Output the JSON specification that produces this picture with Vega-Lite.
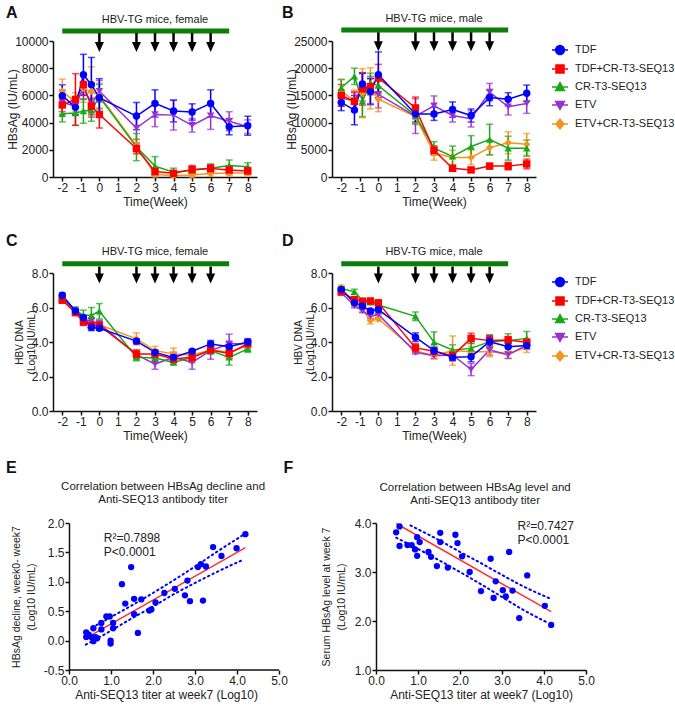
{
  "$schema": "https://vega.github.io/schema/vega-lite/v6.json",
  "spacing": 19,
  "datasets": {
    "inj": [{"week": 0}, {"week": 2}, {"week": 3}, {"week": 4}, {"week": 5}, {"week": 6}],
    "hbsag_female": [
      {"group": "ETV+CR-T3-SEQ13", "week": -2, "value": 6300, "sem": 900},
      {"group": "ETV+CR-T3-SEQ13", "week": -1.29, "value": 5500, "sem": 700},
      {"group": "ETV+CR-T3-SEQ13", "week": -0.86, "value": 6500, "sem": 1000},
      {"group": "ETV+CR-T3-SEQ13", "week": -0.43, "value": 6300, "sem": 1800},
      {"group": "ETV+CR-T3-SEQ13", "week": 0, "value": 6000, "sem": 900},
      {"group": "ETV+CR-T3-SEQ13", "week": 2, "value": 2300, "sem": 500},
      {"group": "ETV+CR-T3-SEQ13", "week": 3, "value": 200, "sem": 200},
      {"group": "ETV+CR-T3-SEQ13", "week": 4, "value": 100, "sem": 100},
      {"group": "ETV+CR-T3-SEQ13", "week": 5, "value": 150, "sem": 150},
      {"group": "ETV+CR-T3-SEQ13", "week": 6, "value": 250, "sem": 200},
      {"group": "ETV+CR-T3-SEQ13", "week": 7, "value": 300, "sem": 200},
      {"group": "ETV+CR-T3-SEQ13", "week": 8, "value": 300, "sem": 200},
      {"group": "ETV", "week": -2, "value": 5500, "sem": 900},
      {"group": "ETV", "week": -1.29, "value": 5200, "sem": 600},
      {"group": "ETV", "week": -0.86, "value": 6600, "sem": 900},
      {"group": "ETV", "week": -0.43, "value": 5300, "sem": 900},
      {"group": "ETV", "week": 0, "value": 6300, "sem": 800},
      {"group": "ETV", "week": 2, "value": 3600, "sem": 850},
      {"group": "ETV", "week": 3, "value": 4600, "sem": 900},
      {"group": "ETV", "week": 4, "value": 4550, "sem": 1100},
      {"group": "ETV", "week": 5, "value": 3800, "sem": 500},
      {"group": "ETV", "week": 6, "value": 4500, "sem": 1000},
      {"group": "ETV", "week": 7, "value": 4100, "sem": 700},
      {"group": "ETV", "week": 8, "value": 3700, "sem": 500},
      {"group": "CR-T3-SEQ13", "week": -2, "value": 4650, "sem": 600},
      {"group": "CR-T3-SEQ13", "week": -1.29, "value": 4700, "sem": 900},
      {"group": "CR-T3-SEQ13", "week": -0.86, "value": 4850, "sem": 900},
      {"group": "CR-T3-SEQ13", "week": -0.43, "value": 4900, "sem": 800},
      {"group": "CR-T3-SEQ13", "week": 0, "value": 5900, "sem": 900},
      {"group": "CR-T3-SEQ13", "week": 2, "value": 2200, "sem": 1000},
      {"group": "CR-T3-SEQ13", "week": 3, "value": 800, "sem": 700},
      {"group": "CR-T3-SEQ13", "week": 4, "value": 350, "sem": 300},
      {"group": "CR-T3-SEQ13", "week": 5, "value": 500, "sem": 250},
      {"group": "CR-T3-SEQ13", "week": 6, "value": 650, "sem": 300},
      {"group": "CR-T3-SEQ13", "week": 7, "value": 850, "sem": 400},
      {"group": "CR-T3-SEQ13", "week": 8, "value": 750, "sem": 300},
      {"group": "TDF+CR-T3-SEQ13", "week": -2, "value": 5300, "sem": 500},
      {"group": "TDF+CR-T3-SEQ13", "week": -1.29, "value": 5700, "sem": 1900},
      {"group": "TDF+CR-T3-SEQ13", "week": -0.86, "value": 6800, "sem": 800},
      {"group": "TDF+CR-T3-SEQ13", "week": -0.43, "value": 5200, "sem": 600},
      {"group": "TDF+CR-T3-SEQ13", "week": 0, "value": 4600, "sem": 1000},
      {"group": "TDF+CR-T3-SEQ13", "week": 2, "value": 2100, "sem": 400},
      {"group": "TDF+CR-T3-SEQ13", "week": 3, "value": 400, "sem": 250},
      {"group": "TDF+CR-T3-SEQ13", "week": 4, "value": 270, "sem": 200},
      {"group": "TDF+CR-T3-SEQ13", "week": 5, "value": 550, "sem": 300},
      {"group": "TDF+CR-T3-SEQ13", "week": 6, "value": 620, "sem": 300},
      {"group": "TDF+CR-T3-SEQ13", "week": 7, "value": 520, "sem": 300},
      {"group": "TDF+CR-T3-SEQ13", "week": 8, "value": 450, "sem": 250},
      {"group": "TDF", "week": -2, "value": 5980, "sem": 800},
      {"group": "TDF", "week": -1.29, "value": 5120, "sem": 550},
      {"group": "TDF", "week": -0.86, "value": 7520, "sem": 1500},
      {"group": "TDF", "week": -0.43, "value": 6790, "sem": 2000},
      {"group": "TDF", "week": 0, "value": 5830, "sem": 1400},
      {"group": "TDF", "week": 2, "value": 4480, "sem": 1000},
      {"group": "TDF", "week": 3, "value": 5410, "sem": 1000},
      {"group": "TDF", "week": 4, "value": 4850, "sem": 800},
      {"group": "TDF", "week": 5, "value": 4780, "sem": 600},
      {"group": "TDF", "week": 6, "value": 5410, "sem": 1000},
      {"group": "TDF", "week": 7, "value": 3700, "sem": 600},
      {"group": "TDF", "week": 8, "value": 3770, "sem": 700}
    ],
    "hbsag_male": [
      {"group": "ETV+CR-T3-SEQ13", "week": -2, "value": 15800, "sem": 2200},
      {"group": "ETV+CR-T3-SEQ13", "week": -1.29, "value": 14000, "sem": 2000},
      {"group": "ETV+CR-T3-SEQ13", "week": -0.86, "value": 15400, "sem": 4500},
      {"group": "ETV+CR-T3-SEQ13", "week": -0.43, "value": 16300, "sem": 3800},
      {"group": "ETV+CR-T3-SEQ13", "week": 0, "value": 14300, "sem": 2300},
      {"group": "ETV+CR-T3-SEQ13", "week": 2, "value": 11100, "sem": 1500},
      {"group": "ETV+CR-T3-SEQ13", "week": 3, "value": 4400, "sem": 1300},
      {"group": "ETV+CR-T3-SEQ13", "week": 4, "value": 3600, "sem": 1300},
      {"group": "ETV+CR-T3-SEQ13", "week": 5, "value": 3600, "sem": 1300},
      {"group": "ETV+CR-T3-SEQ13", "week": 6, "value": 5400, "sem": 1400},
      {"group": "ETV+CR-T3-SEQ13", "week": 7, "value": 6300, "sem": 2000},
      {"group": "ETV+CR-T3-SEQ13", "week": 8, "value": 6000, "sem": 2000},
      {"group": "ETV", "week": -2, "value": 14500, "sem": 1500},
      {"group": "ETV", "week": -1.29, "value": 14000, "sem": 1500},
      {"group": "ETV", "week": -0.86, "value": 16500, "sem": 2500},
      {"group": "ETV", "week": -0.43, "value": 16000, "sem": 2500},
      {"group": "ETV", "week": 0, "value": 15200, "sem": 2500},
      {"group": "ETV", "week": 2, "value": 11200, "sem": 3200},
      {"group": "ETV", "week": 3, "value": 13100, "sem": 1800},
      {"group": "ETV", "week": 4, "value": 11300, "sem": 1200},
      {"group": "ETV", "week": 5, "value": 10700, "sem": 1500},
      {"group": "ETV", "week": 6, "value": 15600, "sem": 1600},
      {"group": "ETV", "week": 7, "value": 12900, "sem": 1500},
      {"group": "ETV", "week": 8, "value": 13500, "sem": 1800},
      {"group": "CR-T3-SEQ13", "week": -2, "value": 16400, "sem": 1500},
      {"group": "CR-T3-SEQ13", "week": -1.29, "value": 18500, "sem": 1500},
      {"group": "CR-T3-SEQ13", "week": -0.86, "value": 13900, "sem": 2800},
      {"group": "CR-T3-SEQ13", "week": -0.43, "value": 17300, "sem": 1800},
      {"group": "CR-T3-SEQ13", "week": 0, "value": 16800, "sem": 1500},
      {"group": "CR-T3-SEQ13", "week": 2, "value": 11300, "sem": 1500},
      {"group": "CR-T3-SEQ13", "week": 3, "value": 5300, "sem": 1200},
      {"group": "CR-T3-SEQ13", "week": 4, "value": 3800, "sem": 1900},
      {"group": "CR-T3-SEQ13", "week": 5, "value": 5600, "sem": 2000},
      {"group": "CR-T3-SEQ13", "week": 6, "value": 6900, "sem": 2800},
      {"group": "CR-T3-SEQ13", "week": 7, "value": 5300, "sem": 2200},
      {"group": "CR-T3-SEQ13", "week": 8, "value": 5300, "sem": 1500},
      {"group": "TDF+CR-T3-SEQ13", "week": -2, "value": 15000, "sem": 2000},
      {"group": "TDF+CR-T3-SEQ13", "week": -1.29, "value": 13900, "sem": 1800},
      {"group": "TDF+CR-T3-SEQ13", "week": -0.86, "value": 16200, "sem": 3000},
      {"group": "TDF+CR-T3-SEQ13", "week": -0.43, "value": 16600, "sem": 1500},
      {"group": "TDF+CR-T3-SEQ13", "week": 0, "value": 18200, "sem": 2500},
      {"group": "TDF+CR-T3-SEQ13", "week": 2, "value": 12700, "sem": 2000},
      {"group": "TDF+CR-T3-SEQ13", "week": 3, "value": 4900, "sem": 800},
      {"group": "TDF+CR-T3-SEQ13", "week": 4, "value": 1600, "sem": 400},
      {"group": "TDF+CR-T3-SEQ13", "week": 5, "value": 1300, "sem": 400},
      {"group": "TDF+CR-T3-SEQ13", "week": 6, "value": 2000, "sem": 500},
      {"group": "TDF+CR-T3-SEQ13", "week": 7, "value": 2000, "sem": 700},
      {"group": "TDF+CR-T3-SEQ13", "week": 8, "value": 2400, "sem": 900},
      {"group": "TDF", "week": -2, "value": 13700, "sem": 1500},
      {"group": "TDF", "week": -1.29, "value": 12300, "sem": 2700},
      {"group": "TDF", "week": -0.86, "value": 17100, "sem": 2000},
      {"group": "TDF", "week": -0.43, "value": 15700, "sem": 2400},
      {"group": "TDF", "week": 0, "value": 18800, "sem": 4200},
      {"group": "TDF", "week": 2, "value": 11600, "sem": 1500},
      {"group": "TDF", "week": 3, "value": 11600, "sem": 1200},
      {"group": "TDF", "week": 4, "value": 12400, "sem": 1400},
      {"group": "TDF", "week": 5, "value": 11300, "sem": 1200},
      {"group": "TDF", "week": 6, "value": 14600, "sem": 1500},
      {"group": "TDF", "week": 7, "value": 14300, "sem": 1200},
      {"group": "TDF", "week": 8, "value": 15400, "sem": 1500}
    ],
    "dna_female": [
      {"group": "ETV+CR-T3-SEQ13", "week": -2, "value": 6.5, "sem": 0.1},
      {"group": "ETV+CR-T3-SEQ13", "week": -1.29, "value": 5.7, "sem": 0.15},
      {"group": "ETV+CR-T3-SEQ13", "week": -0.86, "value": 5.3, "sem": 0.2},
      {"group": "ETV+CR-T3-SEQ13", "week": -0.43, "value": 5.0, "sem": 0.2},
      {"group": "ETV+CR-T3-SEQ13", "week": 0, "value": 5.0, "sem": 0.15},
      {"group": "ETV+CR-T3-SEQ13", "week": 2, "value": 4.18, "sem": 0.35},
      {"group": "ETV+CR-T3-SEQ13", "week": 3, "value": 3.5, "sem": 0.25},
      {"group": "ETV+CR-T3-SEQ13", "week": 4, "value": 3.3, "sem": 0.35},
      {"group": "ETV+CR-T3-SEQ13", "week": 5, "value": 3.25, "sem": 0.2},
      {"group": "ETV+CR-T3-SEQ13", "week": 6, "value": 3.54, "sem": 0.2},
      {"group": "ETV+CR-T3-SEQ13", "week": 7, "value": 3.4, "sem": 0.3},
      {"group": "ETV+CR-T3-SEQ13", "week": 8, "value": 3.8, "sem": 0.3},
      {"group": "ETV", "week": -2, "value": 6.55, "sem": 0.12},
      {"group": "ETV", "week": -1.29, "value": 5.75, "sem": 0.15},
      {"group": "ETV", "week": -0.86, "value": 5.3, "sem": 0.2},
      {"group": "ETV", "week": -0.43, "value": 5.2, "sem": 0.2},
      {"group": "ETV", "week": 0, "value": 5.06, "sem": 0.2},
      {"group": "ETV", "week": 2, "value": 3.27, "sem": 0.2},
      {"group": "ETV", "week": 3, "value": 2.72, "sem": 0.3},
      {"group": "ETV", "week": 4, "value": 3.11, "sem": 0.3},
      {"group": "ETV", "week": 5, "value": 2.82, "sem": 0.4},
      {"group": "ETV", "week": 6, "value": 3.5, "sem": 0.5},
      {"group": "ETV", "week": 7, "value": 3.9, "sem": 0.55},
      {"group": "ETV", "week": 8, "value": 3.9, "sem": 0.3},
      {"group": "CR-T3-SEQ13", "week": -2, "value": 6.6, "sem": 0.1},
      {"group": "CR-T3-SEQ13", "week": -1.29, "value": 5.84, "sem": 0.2},
      {"group": "CR-T3-SEQ13", "week": -0.86, "value": 5.55, "sem": 0.3},
      {"group": "CR-T3-SEQ13", "week": -0.43, "value": 5.55, "sem": 0.45},
      {"group": "CR-T3-SEQ13", "week": 0, "value": 5.78, "sem": 0.45},
      {"group": "CR-T3-SEQ13", "week": 2, "value": 3.11, "sem": 0.2},
      {"group": "CR-T3-SEQ13", "week": 3, "value": 3.07, "sem": 0.2},
      {"group": "CR-T3-SEQ13", "week": 4, "value": 2.82, "sem": 0.15},
      {"group": "CR-T3-SEQ13", "week": 5, "value": 3.11, "sem": 0.2},
      {"group": "CR-T3-SEQ13", "week": 6, "value": 3.5, "sem": 0.2},
      {"group": "CR-T3-SEQ13", "week": 7, "value": 3.11, "sem": 0.45},
      {"group": "CR-T3-SEQ13", "week": 8, "value": 3.6, "sem": 0.2},
      {"group": "TDF+CR-T3-SEQ13", "week": -2, "value": 6.42, "sem": 0.1},
      {"group": "TDF+CR-T3-SEQ13", "week": -1.29, "value": 5.7, "sem": 0.15},
      {"group": "TDF+CR-T3-SEQ13", "week": -0.86, "value": 5.16, "sem": 0.2},
      {"group": "TDF+CR-T3-SEQ13", "week": -0.43, "value": 4.96, "sem": 0.15},
      {"group": "TDF+CR-T3-SEQ13", "week": 0, "value": 4.96, "sem": 0.15},
      {"group": "TDF+CR-T3-SEQ13", "week": 2, "value": 3.3, "sem": 0.25},
      {"group": "TDF+CR-T3-SEQ13", "week": 3, "value": 3.3, "sem": 0.2},
      {"group": "TDF+CR-T3-SEQ13", "week": 4, "value": 3.01, "sem": 0.2},
      {"group": "TDF+CR-T3-SEQ13", "week": 5, "value": 3.11, "sem": 0.3},
      {"group": "TDF+CR-T3-SEQ13", "week": 6, "value": 3.54, "sem": 0.2},
      {"group": "TDF+CR-T3-SEQ13", "week": 7, "value": 3.34, "sem": 0.3},
      {"group": "TDF+CR-T3-SEQ13", "week": 8, "value": 3.9, "sem": 0.2},
      {"group": "TDF", "week": -2, "value": 6.71, "sem": 0.12},
      {"group": "TDF", "week": -1.29, "value": 5.8, "sem": 0.15},
      {"group": "TDF", "week": -0.86, "value": 5.41, "sem": 0.15},
      {"group": "TDF", "week": -0.43, "value": 4.86, "sem": 0.2},
      {"group": "TDF", "week": 0, "value": 4.8, "sem": 0.12},
      {"group": "TDF", "week": 2, "value": 4.05, "sem": 0.15},
      {"group": "TDF", "week": 3, "value": 3.4, "sem": 0.15},
      {"group": "TDF", "week": 4, "value": 3.11, "sem": 0.15},
      {"group": "TDF", "week": 5, "value": 3.46, "sem": 0.1},
      {"group": "TDF", "week": 6, "value": 3.89, "sem": 0.2},
      {"group": "TDF", "week": 7, "value": 3.73, "sem": 0.25},
      {"group": "TDF", "week": 8, "value": 4.0, "sem": 0.15}
    ],
    "dna_male": [
      {"group": "ETV+CR-T3-SEQ13", "week": -2, "value": 7.15, "sem": 0.15},
      {"group": "ETV+CR-T3-SEQ13", "week": -1.29, "value": 6.2, "sem": 0.15},
      {"group": "ETV+CR-T3-SEQ13", "week": -0.86, "value": 5.9, "sem": 0.15},
      {"group": "ETV+CR-T3-SEQ13", "week": -0.43, "value": 5.25, "sem": 0.2},
      {"group": "ETV+CR-T3-SEQ13", "week": 0, "value": 5.35, "sem": 0.15},
      {"group": "ETV+CR-T3-SEQ13", "week": 2, "value": 3.5, "sem": 0.15},
      {"group": "ETV+CR-T3-SEQ13", "week": 3, "value": 3.21, "sem": 0.2},
      {"group": "ETV+CR-T3-SEQ13", "week": 4, "value": 3.5, "sem": 0.85},
      {"group": "ETV+CR-T3-SEQ13", "week": 5, "value": 3.44, "sem": 0.3},
      {"group": "ETV+CR-T3-SEQ13", "week": 6, "value": 3.44, "sem": 0.3},
      {"group": "ETV+CR-T3-SEQ13", "week": 7, "value": 3.34, "sem": 0.3},
      {"group": "ETV+CR-T3-SEQ13", "week": 8, "value": 3.7, "sem": 0.3},
      {"group": "ETV", "week": -2, "value": 6.85, "sem": 0.15},
      {"group": "ETV", "week": -1.29, "value": 6.1, "sem": 0.12},
      {"group": "ETV", "week": -0.86, "value": 5.8, "sem": 0.1},
      {"group": "ETV", "week": -0.43, "value": 5.5, "sem": 0.15},
      {"group": "ETV", "week": 0, "value": 5.6, "sem": 0.2},
      {"group": "ETV", "week": 2, "value": 3.4, "sem": 0.1},
      {"group": "ETV", "week": 3, "value": 3.2, "sem": 0.15},
      {"group": "ETV", "week": 4, "value": 3.25, "sem": 0.2},
      {"group": "ETV", "week": 5, "value": 2.4, "sem": 0.35},
      {"group": "ETV", "week": 6, "value": 3.54, "sem": 0.3},
      {"group": "ETV", "week": 7, "value": 3.25, "sem": 0.2},
      {"group": "ETV", "week": 8, "value": 3.83, "sem": 0.2},
      {"group": "CR-T3-SEQ13", "week": -2, "value": 7.1, "sem": 0.1},
      {"group": "CR-T3-SEQ13", "week": -1.29, "value": 6.91, "sem": 0.15},
      {"group": "CR-T3-SEQ13", "week": -0.86, "value": 6.42, "sem": 0.1},
      {"group": "CR-T3-SEQ13", "week": -0.43, "value": 6.3, "sem": 0.1},
      {"group": "CR-T3-SEQ13", "week": 0, "value": 6.15, "sem": 0.15},
      {"group": "CR-T3-SEQ13", "week": 2, "value": 5.49, "sem": 0.25},
      {"group": "CR-T3-SEQ13", "week": 3, "value": 3.99, "sem": 0.6},
      {"group": "CR-T3-SEQ13", "week": 4, "value": 3.54, "sem": 0.3},
      {"group": "CR-T3-SEQ13", "week": 5, "value": 3.63, "sem": 0.3},
      {"group": "CR-T3-SEQ13", "week": 6, "value": 4.02, "sem": 0.4},
      {"group": "CR-T3-SEQ13", "week": 7, "value": 4.08, "sem": 0.4},
      {"group": "CR-T3-SEQ13", "week": 8, "value": 4.21, "sem": 0.4},
      {"group": "TDF+CR-T3-SEQ13", "week": -2, "value": 6.91, "sem": 0.1},
      {"group": "TDF+CR-T3-SEQ13", "week": -1.29, "value": 6.46, "sem": 0.1},
      {"group": "TDF+CR-T3-SEQ13", "week": -0.86, "value": 6.36, "sem": 0.1},
      {"group": "TDF+CR-T3-SEQ13", "week": -0.43, "value": 6.38, "sem": 0.1},
      {"group": "TDF+CR-T3-SEQ13", "week": 0, "value": 6.27, "sem": 0.15},
      {"group": "TDF+CR-T3-SEQ13", "week": 2, "value": 3.66, "sem": 0.25},
      {"group": "TDF+CR-T3-SEQ13", "week": 3, "value": 3.46, "sem": 0.2},
      {"group": "TDF+CR-T3-SEQ13", "week": 4, "value": 3.21, "sem": 0.25},
      {"group": "TDF+CR-T3-SEQ13", "week": 5, "value": 4.21, "sem": 0.3},
      {"group": "TDF+CR-T3-SEQ13", "week": 6, "value": 4.08, "sem": 0.3},
      {"group": "TDF+CR-T3-SEQ13", "week": 7, "value": 4.12, "sem": 0.2},
      {"group": "TDF+CR-T3-SEQ13", "week": 8, "value": 3.98, "sem": 0.2},
      {"group": "TDF", "week": -2, "value": 7.05, "sem": 0.12},
      {"group": "TDF", "week": -1.29, "value": 6.27, "sem": 0.12},
      {"group": "TDF", "week": -0.86, "value": 6.09, "sem": 0.1},
      {"group": "TDF", "week": -0.43, "value": 5.8, "sem": 0.1},
      {"group": "TDF", "week": 0, "value": 5.88, "sem": 0.25},
      {"group": "TDF", "week": 2, "value": 4.28, "sem": 0.25},
      {"group": "TDF", "week": 3, "value": 3.5, "sem": 0.2},
      {"group": "TDF", "week": 4, "value": 3.11, "sem": 0.2},
      {"group": "TDF", "week": 5, "value": 3.15, "sem": 0.3},
      {"group": "TDF", "week": 6, "value": 4.02, "sem": 0.3},
      {"group": "TDF", "week": 7, "value": 3.73, "sem": 0.3},
      {"group": "TDF", "week": 8, "value": 3.79, "sem": 0.2}
    ],
    "e_points": [
      {"titer": 0.41, "decline": 0.14}, {"titer": 0.41, "decline": 0.06}, {"titer": 0.47, "decline": 0.1},
      {"titer": 0.53, "decline": 0.06}, {"titer": 0.58, "decline": -0.01}, {"titer": 0.58, "decline": 0.21},
      {"titer": 0.63, "decline": 0.06}, {"titer": 0.67, "decline": 0.04}, {"titer": 0.77, "decline": 0.3},
      {"titer": 0.77, "decline": 0.19}, {"titer": 0.89, "decline": 0.41}, {"titer": 0.97, "decline": 0.41},
      {"titer": 0.99, "decline": 0.0}, {"titer": 0.99, "decline": -0.05}, {"titer": 1.05, "decline": 0.3},
      {"titer": 1.05, "decline": 0.21}, {"titer": 1.26, "decline": 0.96}, {"titer": 1.34, "decline": 0.63},
      {"titer": 1.48, "decline": 1.25}, {"titer": 1.55, "decline": 0.71}, {"titer": 1.55, "decline": 0.45},
      {"titer": 1.64, "decline": 0.13}, {"titer": 1.72, "decline": 0.7}, {"titer": 1.91, "decline": 0.51},
      {"titer": 1.96, "decline": 0.53}, {"titer": 2.06, "decline": 0.65}, {"titer": 2.27, "decline": 0.81},
      {"titer": 2.52, "decline": 0.88}, {"titer": 2.76, "decline": 0.77}, {"titer": 2.82, "decline": 1.02},
      {"titer": 2.88, "decline": 0.67}, {"titer": 3.07, "decline": 1.25}, {"titer": 3.14, "decline": 1.3},
      {"titer": 3.19, "decline": 0.68}, {"titer": 3.26, "decline": 1.26}, {"titer": 3.43, "decline": 1.59},
      {"titer": 3.63, "decline": 1.44}, {"titer": 3.99, "decline": 1.57}, {"titer": 4.2, "decline": 1.81}
    ],
    "e_fit": [{"titer": 0.5, "decline": 0.08}, {"titer": 4.2, "decline": 1.58}],
    "e_band": [
      {"band": "upper", "titer": 0.55, "decline": 0.22}, {"band": "upper", "titer": 1.0, "decline": 0.4},
      {"band": "upper", "titer": 1.5, "decline": 0.6}, {"band": "upper", "titer": 2.0, "decline": 0.81},
      {"band": "upper", "titer": 2.5, "decline": 1.03}, {"band": "upper", "titer": 3.0, "decline": 1.26},
      {"band": "upper", "titer": 3.5, "decline": 1.5}, {"band": "upper", "titer": 4.2, "decline": 1.82},
      {"band": "lower", "titer": 0.4, "decline": -0.07}, {"band": "lower", "titer": 1.0, "decline": 0.17},
      {"band": "lower", "titer": 1.5, "decline": 0.38}, {"band": "lower", "titer": 2.0, "decline": 0.58},
      {"band": "lower", "titer": 2.5, "decline": 0.79}, {"band": "lower", "titer": 3.0, "decline": 0.98},
      {"band": "lower", "titer": 3.5, "decline": 1.16}, {"band": "lower", "titer": 4.1, "decline": 1.36}
    ],
    "f_points": [
      {"titer": 0.48, "level": 3.81}, {"titer": 0.56, "level": 3.93}, {"titer": 0.56, "level": 3.53},
      {"titer": 0.75, "level": 3.55}, {"titer": 0.85, "level": 3.55}, {"titer": 0.93, "level": 3.46},
      {"titer": 0.98, "level": 3.71}, {"titer": 0.98, "level": 3.33}, {"titer": 1.04, "level": 3.61},
      {"titer": 1.25, "level": 3.41}, {"titer": 1.31, "level": 3.31}, {"titer": 1.45, "level": 3.12},
      {"titer": 1.53, "level": 3.8}, {"titer": 1.53, "level": 3.61}, {"titer": 1.71, "level": 3.09},
      {"titer": 1.89, "level": 3.76}, {"titer": 1.94, "level": 3.59}, {"titer": 2.05, "level": 3.32},
      {"titer": 2.23, "level": 3.0}, {"titer": 2.5, "level": 2.61}, {"titer": 2.73, "level": 3.27},
      {"titer": 2.8, "level": 2.47}, {"titer": 2.85, "level": 2.81}, {"titer": 3.02, "level": 2.63},
      {"titer": 3.09, "level": 2.5}, {"titer": 3.17, "level": 3.41}, {"titer": 3.25, "level": 2.62},
      {"titer": 3.41, "level": 2.06}, {"titer": 3.6, "level": 2.93}, {"titer": 4.02, "level": 2.31},
      {"titer": 4.17, "level": 1.92}
    ],
    "f_fit": [{"titer": 0.48, "level": 3.99}, {"titer": 4.17, "level": 2.19}],
    "f_band": [
      {"band": "upper", "titer": 0.82, "level": 3.95}, {"band": "upper", "titer": 1.5, "level": 3.65},
      {"band": "upper", "titer": 2.0, "level": 3.41}, {"band": "upper", "titer": 2.5, "level": 3.18},
      {"band": "upper", "titer": 3.0, "level": 2.94}, {"band": "upper", "titer": 3.5, "level": 2.71},
      {"band": "upper", "titer": 4.17, "level": 2.45},
      {"band": "lower", "titer": 0.48, "level": 3.7}, {"band": "lower", "titer": 1.0, "level": 3.47},
      {"band": "lower", "titer": 1.5, "level": 3.24}, {"band": "lower", "titer": 2.0, "level": 3.0},
      {"band": "lower", "titer": 2.5, "level": 2.75}, {"band": "lower", "titer": 3.0, "level": 2.49},
      {"band": "lower", "titer": 3.5, "level": 2.23}, {"band": "lower", "titer": 4.1, "level": 1.96}
    ]
  },
  "vconcat": [
    {
      "spacing": 26,
      "vconcat": [
        {
          "spacing": 24,
          "hconcat": [
            {
              "width": 204, "height": 136,
              "layer": [
                {"data": {"name": "hbsag_female"}, "mark": {"type": "errorbar", "ticks": true, "size": 7, "thickness": 1.5},
                 "encoding": {
                   "x": {"field": "week", "type": "quantitative", "scale": {"domain": [-2.5, 8.5], "nice": false, "zero": false},
                         "axis": {"values": [-2, -1, 0, 1, 2, 3, 4, 5, 6, 7, 8], "tickCount": 20, "labelFlush": false, "labelOverlap": false, "labelExpr": "datum.value < 0 ? '-' + abs(datum.value) : '' + datum.value", "title": "Time(Week)", "titlePadding": 3}},
                   "y": {"field": "value", "type": "quantitative", "scale": {"domain": [0, 10000], "nice": false},
                         "axis": {"values": [0, 2000, 4000, 6000, 8000, 10000], "tickCount": 20, "labelFlush": false, "labelOverlap": false, "format": "d", "title": "HBsAg (IU/mL)", "titlePadding": -5}},
                   "yError": {"field": "sem"},
                   "color": {"field": "group", "type": "nominal", "scale": {"domain": ["TDF", "TDF+CR-T3-SEQ13", "CR-T3-SEQ13", "ETV", "ETV+CR-T3-SEQ13"], "range": ["#0000ff", "#ff0000", "#19a819", "#9b30d0", "#f7931e"]}, "legend": null}}},
                {"data": {"name": "hbsag_female"}, "mark": {"type": "line", "strokeWidth": 1.5},
                 "encoding": {"x": {"field": "week", "type": "quantitative"}, "y": {"field": "value", "type": "quantitative"},
                   "color": {"field": "group", "type": "nominal", "legend": null}}},
                {"data": {"name": "hbsag_female"}, "mark": {"type": "point", "filled": true, "size": 55, "opacity": 1},
                 "encoding": {"x": {"field": "week", "type": "quantitative"}, "y": {"field": "value", "type": "quantitative"},
                   "color": {"field": "group", "type": "nominal", "legend": null},
                   "shape": {"field": "group", "type": "nominal", "scale": {"domain": ["TDF", "TDF+CR-T3-SEQ13", "CR-T3-SEQ13", "ETV", "ETV+CR-T3-SEQ13"], "range": ["circle", "square", "triangle-up", "triangle-down", "diamond"]}, "legend": null}}},
                {"data": {"values": [{"label": "bar"}]}, "mark": {"type": "rule", "color": "#0b7d0b", "strokeWidth": 5},
                 "encoding": {"x": {"datum": -2}, "x2": {"datum": 7}, "y": {"datum": 10735}}},
                {"data": {"values": [{"label": "HBV-TG mice, female"}]}, "mark": {"type": "text", "fontSize": 11, "baseline": "middle"},
                 "encoding": {"text": {"field": "label"}, "x": {"datum": 3}, "y": {"datum": 11544}}},
                {"data": {"values": [{"label": "A"}]}, "mark": {"type": "text", "fontSize": 16, "fontWeight": "bold", "align": "left", "baseline": "alphabetic", "color": "#111"},
                 "encoding": {"text": {"field": "label"}, "x": {"datum": -5.04}, "y": {"datum": 11691}}},
                {"data": {"name": "inj"}, "mark": {"type": "rule", "strokeWidth": 2.5, "color": "#000"},
                 "encoding": {"x": {"field": "week", "type": "quantitative"}, "y": {"datum": 10588}, "y2": {"datum": 9780}}},
                {"data": {"name": "inj"}, "mark": {"type": "point", "shape": "M-0.9,-1L0.9,-1L0,1Z", "filled": true, "color": "#000", "size": 100, "opacity": 1},
                 "encoding": {"x": {"field": "week", "type": "quantitative"}, "y": {"datum": 9559}}}
              ]
            },
            {
              "width": 204, "height": 136,
              "resolve": {"scale": {"shape": "independent", "fill": "independent", "stroke": "independent"}},
              "layer": [
                {"data": {"name": "hbsag_male"}, "mark": {"type": "errorbar", "ticks": true, "size": 7, "thickness": 1.5},
                 "encoding": {
                   "x": {"field": "week", "type": "quantitative", "scale": {"domain": [-2.5, 8.5], "nice": false, "zero": false},
                         "axis": {"values": [-2, -1, 0, 1, 2, 3, 4, 5, 6, 7, 8], "tickCount": 20, "labelFlush": false, "labelOverlap": false, "labelExpr": "datum.value < 0 ? '-' + abs(datum.value) : '' + datum.value", "title": "Time(Week)", "titlePadding": 3}},
                   "y": {"field": "value", "type": "quantitative", "scale": {"domain": [0, 25000], "nice": false},
                         "axis": {"values": [0, 5000, 10000, 15000, 20000, 25000], "tickCount": 20, "labelFlush": false, "labelOverlap": false, "format": "d", "title": "HBsAg (IU/mL)", "titlePadding": -5}},
                   "yError": {"field": "sem"},
                   "color": {"field": "group", "type": "nominal", "scale": {"domain": ["TDF", "TDF+CR-T3-SEQ13", "CR-T3-SEQ13", "ETV", "ETV+CR-T3-SEQ13"], "range": ["#0000ff", "#ff0000", "#19a819", "#9b30d0", "#f7931e"]}, "legend": null}}},
                {"data": {"name": "hbsag_male"}, "mark": {"type": "line", "strokeWidth": 1.5},
                 "encoding": {"x": {"field": "week", "type": "quantitative"}, "y": {"field": "value", "type": "quantitative"},
                   "color": {"field": "group", "type": "nominal", "legend": null}}},
                {"data": {"name": "hbsag_male"}, "mark": {"type": "point", "filled": true, "size": 55, "opacity": 1},
                 "encoding": {"x": {"field": "week", "type": "quantitative"}, "y": {"field": "value", "type": "quantitative"},
                   "color": {"field": "group", "type": "nominal", "legend": null},
                   "shape": {"field": "group", "type": "nominal", "scale": {"domain": ["TDF", "TDF+CR-T3-SEQ13", "CR-T3-SEQ13", "ETV", "ETV+CR-T3-SEQ13"], "range": ["circle", "square", "triangle-up", "triangle-down", "diamond"]}, "legend": null}}},
                {"data": {"name": "hbsag_male"}, "transform": [{"filter": "false"}],
                 "mark": {"type": "point", "filled": true, "opacity": 1, "strokeWidth": 1.5},
                 "encoding": {"x": {"field": "week", "type": "quantitative"}, "y": {"field": "value", "type": "quantitative"},
                   "fill": {"field": "group", "type": "nominal", "scale": {"domain": ["TDF", "TDF+CR-T3-SEQ13", "CR-T3-SEQ13", "ETV", "ETV+CR-T3-SEQ13"], "range": ["#0000ff", "#ff0000", "#19a819", "#9b30d0", "#f7931e"]},
                            "legend": {"title": null, "orient": "right", "offset": 15, "padding": 0, "labelFontSize": 11, "labelColor": "#222", "symbolSize": 256, "symbolStrokeWidth": 1.5, "labelOffset": 6, "rowPadding": 2, "labelLimit": 200}},
                   "stroke": {"field": "group", "type": "nominal", "scale": {"domain": ["TDF", "TDF+CR-T3-SEQ13", "CR-T3-SEQ13", "ETV", "ETV+CR-T3-SEQ13"], "range": ["#0000ff", "#ff0000", "#19a819", "#9b30d0", "#f7931e"]},
                            "legend": {"title": null, "orient": "right", "offset": 15, "padding": 0, "labelFontSize": 11, "labelColor": "#222", "symbolSize": 256, "symbolStrokeWidth": 1.5, "labelOffset": 6, "rowPadding": 2, "labelLimit": 200}},
                   "shape": {"field": "group", "type": "nominal", "scale": {"domain": ["TDF", "TDF+CR-T3-SEQ13", "CR-T3-SEQ13", "ETV", "ETV+CR-T3-SEQ13"], "range": ["M-1,0L1,0M-0.55,0A0.55,0.55,0,1,0,0.55,0A0.55,0.55,0,1,0,-0.55,0Z", "M-1,0L1,0M-0.5,-0.5L0.5,-0.5L0.5,0.5L-0.5,0.5Z", "M-1,0L1,0M0,-0.55L0.55,0.45L-0.55,0.45Z", "M-1,0L1,0M0,0.55L0.55,-0.45L-0.55,-0.45Z", "M-1,0L1,0M0,-0.6L0.5,0L0,0.6L-0.5,0Z"]},
                            "legend": {"title": null, "orient": "right", "offset": 15, "padding": 0, "labelFontSize": 11, "labelColor": "#222", "symbolSize": 256, "symbolStrokeWidth": 1.5, "labelOffset": 6, "rowPadding": 2, "labelLimit": 200}}}},
                {"data": {"values": [{"label": "bar"}]}, "mark": {"type": "rule", "color": "#0b7d0b", "strokeWidth": 5},
                 "encoding": {"x": {"datum": -2}, "x2": {"datum": 7}, "y": {"datum": 27000}}},
                {"data": {"values": [{"label": "HBV-TG mice, male"}]}, "mark": {"type": "text", "fontSize": 11, "baseline": "middle"},
                 "encoding": {"text": {"field": "label"}, "x": {"datum": 3}, "y": {"datum": 28960}}},
                {"data": {"values": [{"label": "B"}]}, "mark": {"type": "text", "fontSize": 16, "fontWeight": "bold", "align": "left", "baseline": "alphabetic", "color": "#111"},
                 "encoding": {"text": {"field": "label"}, "x": {"datum": -5.2}, "y": {"datum": 29227}}},
                {"data": {"name": "inj"}, "mark": {"type": "rule", "strokeWidth": 2.5, "color": "#000"},
                 "encoding": {"x": {"field": "week", "type": "quantitative"}, "y": {"datum": 26600}, "y2": {"datum": 24580}}},
                {"data": {"name": "inj"}, "mark": {"type": "point", "shape": "M-0.9,-1L0.9,-1L0,1Z", "filled": true, "color": "#000", "size": 100, "opacity": 1},
                 "encoding": {"x": {"field": "week", "type": "quantitative"}, "y": {"datum": 24025}}}
              ]
            }
          ]
        },
        {
          "spacing": 24,
          "hconcat": [
            {
              "width": 204, "height": 138,
              "layer": [
                {"data": {"name": "dna_female"}, "mark": {"type": "errorbar", "ticks": true, "size": 7, "thickness": 1.5},
                 "encoding": {
                   "x": {"field": "week", "type": "quantitative", "scale": {"domain": [-2.5, 8.5], "nice": false, "zero": false},
                         "axis": {"values": [-2, -1, 0, 1, 2, 3, 4, 5, 6, 7, 8], "tickCount": 20, "labelFlush": false, "labelOverlap": false, "labelExpr": "datum.value < 0 ? '-' + abs(datum.value) : '' + datum.value", "title": "Time(Week)", "titlePadding": 3}},
                   "y": {"field": "value", "type": "quantitative", "scale": {"domain": [0, 8], "nice": false},
                         "axis": {"values": [0, 2, 4, 6, 8], "tickCount": 20, "labelFlush": false, "labelOverlap": false, "format": ".1f", "title": ["HBV DNA", "(Log10 IU/mL)"], "titleFontSize": 10, "titleLineHeight": 12, "titlePadding": -5}},
                   "yError": {"field": "sem"},
                   "color": {"field": "group", "type": "nominal", "scale": {"domain": ["TDF", "TDF+CR-T3-SEQ13", "CR-T3-SEQ13", "ETV", "ETV+CR-T3-SEQ13"], "range": ["#0000ff", "#ff0000", "#19a819", "#9b30d0", "#f7931e"]}, "legend": null}}},
                {"data": {"name": "dna_female"}, "mark": {"type": "line", "strokeWidth": 1.5},
                 "encoding": {"x": {"field": "week", "type": "quantitative"}, "y": {"field": "value", "type": "quantitative"},
                   "color": {"field": "group", "type": "nominal", "legend": null}}},
                {"data": {"name": "dna_female"}, "mark": {"type": "point", "filled": true, "size": 55, "opacity": 1},
                 "encoding": {"x": {"field": "week", "type": "quantitative"}, "y": {"field": "value", "type": "quantitative"},
                   "color": {"field": "group", "type": "nominal", "legend": null},
                   "shape": {"field": "group", "type": "nominal", "scale": {"domain": ["TDF", "TDF+CR-T3-SEQ13", "CR-T3-SEQ13", "ETV", "ETV+CR-T3-SEQ13"], "range": ["circle", "square", "triangle-up", "triangle-down", "diamond"]}, "legend": null}}},
                {"data": {"values": [{"label": "bar"}]}, "mark": {"type": "rule", "color": "#0b7d0b", "strokeWidth": 5},
                 "encoding": {"x": {"datum": -2}, "x2": {"datum": 7}, "y": {"datum": 8.54}}},
                {"data": {"values": [{"label": "HBV-TG mice, female"}]}, "mark": {"type": "text", "fontSize": 11, "baseline": "middle"},
                 "encoding": {"text": {"field": "label"}, "x": {"datum": 3}, "y": {"datum": 9.22}}},
                {"data": {"values": [{"label": "C"}]}, "mark": {"type": "text", "fontSize": 16, "fontWeight": "bold", "align": "left", "baseline": "alphabetic", "color": "#111"},
                 "encoding": {"text": {"field": "label"}, "x": {"datum": -5.04}, "y": {"datum": 9.565}}},
                {"data": {"name": "inj"}, "mark": {"type": "rule", "strokeWidth": 2.5, "color": "#000"},
                 "encoding": {"x": {"field": "week", "type": "quantitative"}, "y": {"datum": 8.37}, "y2": {"datum": 7.83}}},
                {"data": {"name": "inj"}, "mark": {"type": "point", "shape": "M-0.9,-1L0.9,-1L0,1Z", "filled": true, "color": "#000", "size": 100, "opacity": 1},
                 "encoding": {"x": {"field": "week", "type": "quantitative"}, "y": {"datum": 7.68}}}
              ]
            },
            {
              "width": 204, "height": 138,
              "resolve": {"scale": {"shape": "independent", "fill": "independent", "stroke": "independent"}},
              "layer": [
                {"data": {"name": "dna_male"}, "mark": {"type": "errorbar", "ticks": true, "size": 7, "thickness": 1.5},
                 "encoding": {
                   "x": {"field": "week", "type": "quantitative", "scale": {"domain": [-2.5, 8.5], "nice": false, "zero": false},
                         "axis": {"values": [-2, -1, 0, 1, 2, 3, 4, 5, 6, 7, 8], "tickCount": 20, "labelFlush": false, "labelOverlap": false, "labelExpr": "datum.value < 0 ? '-' + abs(datum.value) : '' + datum.value", "title": "Time(Week)", "titlePadding": 3}},
                   "y": {"field": "value", "type": "quantitative", "scale": {"domain": [0, 8], "nice": false},
                         "axis": {"values": [0, 2, 4, 6, 8], "tickCount": 20, "labelFlush": false, "labelOverlap": false, "format": ".1f", "title": ["HBV DNA", "(Log10 IU/mL)"], "titleFontSize": 10, "titleLineHeight": 12, "titlePadding": -5}},
                   "yError": {"field": "sem"},
                   "color": {"field": "group", "type": "nominal", "scale": {"domain": ["TDF", "TDF+CR-T3-SEQ13", "CR-T3-SEQ13", "ETV", "ETV+CR-T3-SEQ13"], "range": ["#0000ff", "#ff0000", "#19a819", "#9b30d0", "#f7931e"]}, "legend": null}}},
                {"data": {"name": "dna_male"}, "mark": {"type": "line", "strokeWidth": 1.5},
                 "encoding": {"x": {"field": "week", "type": "quantitative"}, "y": {"field": "value", "type": "quantitative"},
                   "color": {"field": "group", "type": "nominal", "legend": null}}},
                {"data": {"name": "dna_male"}, "mark": {"type": "point", "filled": true, "size": 55, "opacity": 1},
                 "encoding": {"x": {"field": "week", "type": "quantitative"}, "y": {"field": "value", "type": "quantitative"},
                   "color": {"field": "group", "type": "nominal", "legend": null},
                   "shape": {"field": "group", "type": "nominal", "scale": {"domain": ["TDF", "TDF+CR-T3-SEQ13", "CR-T3-SEQ13", "ETV", "ETV+CR-T3-SEQ13"], "range": ["circle", "square", "triangle-up", "triangle-down", "diamond"]}, "legend": null}}},
                {"data": {"name": "dna_male"}, "transform": [{"filter": "false"}],
                 "mark": {"type": "point", "filled": true, "opacity": 1, "strokeWidth": 1.5},
                 "encoding": {"x": {"field": "week", "type": "quantitative"}, "y": {"field": "value", "type": "quantitative"},
                   "fill": {"field": "group", "type": "nominal", "scale": {"domain": ["TDF", "TDF+CR-T3-SEQ13", "CR-T3-SEQ13", "ETV", "ETV+CR-T3-SEQ13"], "range": ["#0000ff", "#ff0000", "#19a819", "#9b30d0", "#f7931e"]},
                            "legend": {"title": null, "orient": "right", "offset": 15, "padding": 0, "labelFontSize": 11, "labelColor": "#222", "symbolSize": 256, "symbolStrokeWidth": 1.5, "labelOffset": 6, "rowPadding": 2, "labelLimit": 200}},
                   "stroke": {"field": "group", "type": "nominal", "scale": {"domain": ["TDF", "TDF+CR-T3-SEQ13", "CR-T3-SEQ13", "ETV", "ETV+CR-T3-SEQ13"], "range": ["#0000ff", "#ff0000", "#19a819", "#9b30d0", "#f7931e"]},
                            "legend": {"title": null, "orient": "right", "offset": 15, "padding": 0, "labelFontSize": 11, "labelColor": "#222", "symbolSize": 256, "symbolStrokeWidth": 1.5, "labelOffset": 6, "rowPadding": 2, "labelLimit": 200}},
                   "shape": {"field": "group", "type": "nominal", "scale": {"domain": ["TDF", "TDF+CR-T3-SEQ13", "CR-T3-SEQ13", "ETV", "ETV+CR-T3-SEQ13"], "range": ["M-1,0L1,0M-0.55,0A0.55,0.55,0,1,0,0.55,0A0.55,0.55,0,1,0,-0.55,0Z", "M-1,0L1,0M-0.5,-0.5L0.5,-0.5L0.5,0.5L-0.5,0.5Z", "M-1,0L1,0M0,-0.55L0.55,0.45L-0.55,0.45Z", "M-1,0L1,0M0,0.55L0.55,-0.45L-0.55,-0.45Z", "M-1,0L1,0M0,-0.6L0.5,0L0,0.6L-0.5,0Z"]},
                            "legend": {"title": null, "orient": "right", "offset": 15, "padding": 0, "labelFontSize": 11, "labelColor": "#222", "symbolSize": 256, "symbolStrokeWidth": 1.5, "labelOffset": 6, "rowPadding": 2, "labelLimit": 200}}}},
                {"data": {"values": [{"label": "bar"}]}, "mark": {"type": "rule", "color": "#0b7d0b", "strokeWidth": 5},
                 "encoding": {"x": {"datum": -2}, "x2": {"datum": 7}, "y": {"datum": 8.54}}},
                {"data": {"values": [{"label": "HBV-TG mice, male"}]}, "mark": {"type": "text", "fontSize": 11, "baseline": "middle"},
                 "encoding": {"text": {"field": "label"}, "x": {"datum": 3}, "y": {"datum": 9.22}}},
                {"data": {"values": [{"label": "D"}]}, "mark": {"type": "text", "fontSize": 16, "fontWeight": "bold", "align": "left", "baseline": "alphabetic", "color": "#111"},
                 "encoding": {"text": {"field": "label"}, "x": {"datum": -5.2}, "y": {"datum": 9.565}}},
                {"data": {"name": "inj"}, "mark": {"type": "rule", "strokeWidth": 2.5, "color": "#000"},
                 "encoding": {"x": {"field": "week", "type": "quantitative"}, "y": {"datum": 8.37}, "y2": {"datum": 7.83}}},
                {"data": {"name": "inj"}, "mark": {"type": "point", "shape": "M-0.9,-1L0.9,-1L0,1Z", "filled": true, "color": "#000", "size": 100, "opacity": 1},
                 "encoding": {"x": {"field": "week", "type": "quantitative"}, "y": {"datum": 7.68}}}
              ]
            }
          ]
        }
      ]
    },
    {
      "spacing": -5,
      "hconcat": [
        {
          "width": 226, "height": 147,
          "layer": [
            {"data": {"name": "e_band"}, "mark": {"type": "line", "color": "#0000ff", "strokeWidth": 2, "strokeDash": [1.5, 3.5], "strokeCap": "round", "interpolate": "monotone"},
             "encoding": {
               "x": {"field": "titer", "type": "quantitative", "scale": {"domain": [-0.381, 5], "nice": false, "zero": false},
                     "axis": {"values": [0, 1, 2, 3, 4, 5], "tickCount": 20, "labelFlush": false, "labelOverlap": false, "format": ".1f", "domain": false, "title": "Anti-SEQ13 titer at week7 (Log10)", "titlePadding": 3}},
               "y": {"field": "decline", "type": "quantitative", "scale": {"domain": [-0.5, 2], "nice": false, "zero": false},
                     "axis": {"values": [-0.5, 0, 0.5, 1, 1.5, 2], "tickCount": 20, "labelFlush": false, "labelOverlap": false, "format": ".1f", "offset": -16, "labelExpr": "replace(datum.label, '\u2212', '-')", "title": ["HBsAg decline, week0- week7", "(Log10 IU/mL)"], "titleLineHeight": 15, "titleFontSize": 10.5, "titlePadding": 7}},
               "detail": {"field": "band"}}},
            {"data": {"values": [{"label": "axis"}]}, "mark": {"type": "rule", "color": "#111", "strokeWidth": 1.5},
             "encoding": {"x": {"datum": 0}, "x2": {"datum": 5}, "y": {"datum": -0.5}}},
            {"data": {"name": "e_fit"}, "mark": {"type": "line", "color": "#ff3030", "strokeWidth": 1.5},
             "encoding": {"x": {"field": "titer", "type": "quantitative"}, "y": {"field": "decline", "type": "quantitative"}}},
            {"data": {"name": "e_points"}, "mark": {"type": "point", "filled": true, "size": 40, "opacity": 1, "color": "#0000ff"},
             "encoding": {"x": {"field": "titer", "type": "quantitative"}, "y": {"field": "decline", "type": "quantitative"}}},
            {"data": {"values": [{"label": "R\u00b2=0.7898"}]}, "mark": {"type": "text", "fontSize": 12, "align": "left", "baseline": "middle"},
             "encoding": {"text": {"field": "label"}, "x": {"datum": 0.83}, "y": {"datum": 1.745}}},
            {"data": {"values": [{"label": "P<0.0001"}]}, "mark": {"type": "text", "fontSize": 12, "align": "left", "baseline": "middle"},
             "encoding": {"text": {"field": "label"}, "x": {"datum": 0.83}, "y": {"datum": 1.515}}},
            {"data": {"values": [{"label": "title"}]}, "mark": {"type": "text", "fontSize": 11.5, "align": "center", "baseline": "middle", "lineHeight": 13, "text": ["Correlation between HBsAg decline and", "Anti-SEQ13 antibody titer"]},
             "encoding": {"x": {"datum": 2.24}, "y": {"datum": 2.612}}},
            {"data": {"values": [{"label": "E"}]}, "mark": {"type": "text", "fontSize": 16, "fontWeight": "bold", "align": "left", "baseline": "alphabetic", "color": "#111"},
             "encoding": {"text": {"field": "label"}, "x": {"datum": -1.5}, "y": {"datum": 2.85}}}
          ]
        },
        {
          "width": 210, "height": 147,
          "layer": [
            {"data": {"name": "f_band"}, "mark": {"type": "line", "color": "#0000ff", "strokeWidth": 2, "strokeDash": [1.5, 3.5], "strokeCap": "round", "interpolate": "monotone"},
             "encoding": {
               "x": {"field": "titer", "type": "quantitative", "scale": {"domain": [0, 5], "nice": false},
                     "axis": {"values": [0, 1, 2, 3, 4, 5], "tickCount": 20, "labelFlush": false, "labelOverlap": false, "format": ".1f", "title": "Anti-SEQ13 titer at week7 (Log10)", "titlePadding": 3}},
               "y": {"field": "level", "type": "quantitative", "scale": {"domain": [1, 4], "nice": false, "zero": false},
                     "axis": {"values": [1, 2, 3, 4], "tickCount": 20, "labelFlush": false, "labelOverlap": false, "format": ".1f", "title": ["Serum HBsAg level at week 7", "(Log10 IU/mL)"], "titleLineHeight": 15, "titleFontSize": 10.5, "titlePadding": 8}},
               "detail": {"field": "band"}}},
            {"data": {"name": "f_fit"}, "mark": {"type": "line", "color": "#ff3030", "strokeWidth": 1.5},
             "encoding": {"x": {"field": "titer", "type": "quantitative"}, "y": {"field": "level", "type": "quantitative"}}},
            {"data": {"name": "f_points"}, "mark": {"type": "point", "filled": true, "size": 40, "opacity": 1, "color": "#0000ff"},
             "encoding": {"x": {"field": "titer", "type": "quantitative"}, "y": {"field": "level", "type": "quantitative"}}},
            {"data": {"values": [{"label": "R\u00b2=0.7427"}]}, "mark": {"type": "text", "fontSize": 12, "align": "left", "baseline": "middle"},
             "encoding": {"text": {"field": "label"}, "x": {"datum": 3.37}, "y": {"datum": 3.93}}},
            {"data": {"values": [{"label": "P<0.0001"}]}, "mark": {"type": "text", "fontSize": 12, "align": "left", "baseline": "middle"},
             "encoding": {"text": {"field": "label"}, "x": {"datum": 3.37}, "y": {"datum": 3.655}}},
            {"data": {"values": [{"label": "title"}]}, "mark": {"type": "text", "fontSize": 11.5, "align": "center", "baseline": "middle", "lineHeight": 13, "text": ["Correlation between HBsAg level and", "Anti-SEQ13 antibody titer"]},
             "encoding": {"x": {"datum": 2.36}, "y": {"datum": 4.714}}},
            {"data": {"values": [{"label": "F"}]}, "mark": {"type": "text", "fontSize": 16, "fontWeight": "bold", "align": "left", "baseline": "alphabetic", "color": "#111"},
             "encoding": {"text": {"field": "label"}, "x": {"datum": -2.2}, "y": {"datum": 5.02}}}
          ]
        }
      ]
    }
  ],
  "config": {
    "font": "Liberation Sans",
    "view": {"stroke": null},
    "axis": {"grid": false, "domainColor": "#111", "tickColor": "#111", "domainWidth": 1.5, "tickWidth": 1.5, "tickSize": 4, "labelOverlap": false, "labelFlush": false,
             "labelFontSize": 12, "labelColor": "#222", "labelPadding": 1, "titleFontSize": 12, "titleFontWeight": "normal", "titleColor": "#222"},
    "text": {"color": "#222", "font": "Liberation Sans"}
  }
}
